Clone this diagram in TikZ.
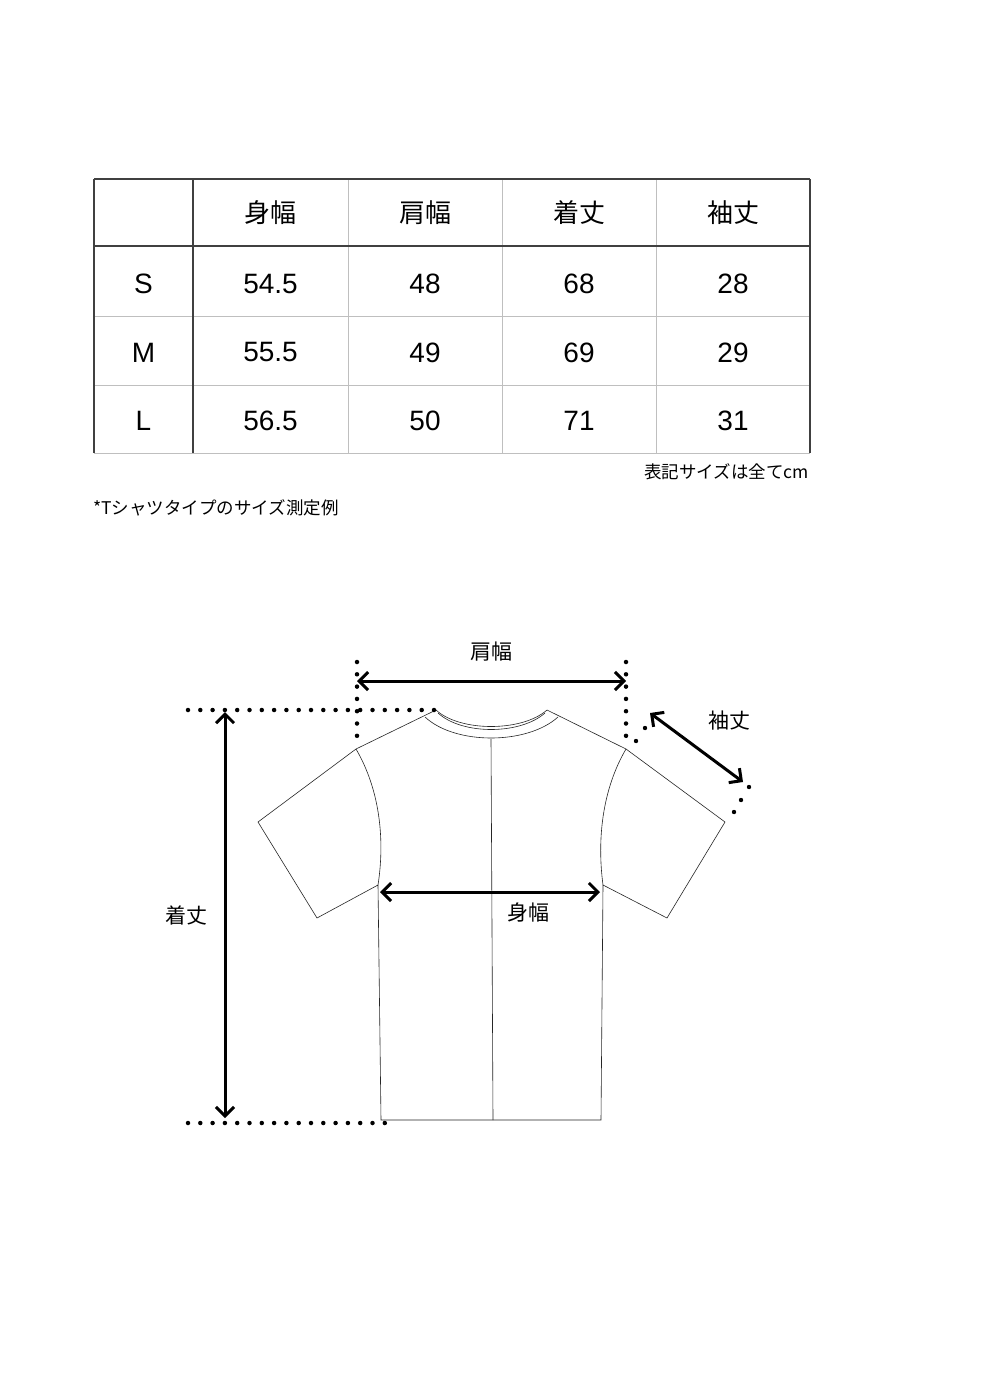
\documentclass[tikz,border=0pt]{standalone}
\usepackage{fontspec}
\setmainfont{Liberation Sans}
\newfontfamily\cjk{Noto Sans CJK JP}
\usetikzlibrary{arrows.meta}
\begin{document}
\begin{tikzpicture}[x=1pt,y=-1pt,
 dark/.style={line width=1.2pt,black!75},
 light/.style={line width=0.8pt,black!25},
 cell/.style={font=\fontsize{28}{28}\selectfont},
 jcell/.style={font=\cjk\fontsize{26}{26}\selectfont},
 lbl/.style={font=\cjk\fontsize{21}{21}\selectfont},
 shirt/.style={line width=0.6pt,black!85},
 meas/.style={line width=3pt,{Straight Barb[length=9pt,width=18pt]}-{Straight Barb[length=9pt,width=18pt]}},
 dots/.style={line width=4.5pt,line cap=round,dash pattern=on 0pt off 12.3pt}]
\useasboundingbox[fill=white] (0,0) rectangle (980,1386);
% table
\foreach \y in {316,385,453} \draw[light] (94,\y) -- (810,\y);
\foreach \x in {348,502,656} \draw[light] (\x,179) -- (\x,453);
\draw[dark] (94,179) -- (810,179);
\draw[dark] (94,246) -- (810,246);
\draw[dark] (94,179) -- (94,453);
\draw[dark] (193,179) -- (193,453);
\draw[dark] (810,179) -- (810,453);
\node[jcell] (h1) at (270.5,213) {身幅};
\node[jcell] (h2) at (425,213) {肩幅};
\node[jcell] (h3) at (579,213) {着丈};
\node[jcell] (h4) at (733,213) {袖丈};
\foreach \s/\a/\b/\c/\d [count=\i] in {S/54.5/48/68/28,M/55.5/49/69/29,L/56.5/50/71/31}{
 \pgfmathsetmacro\yy{284+68.5*(\i-1)}
 \node[cell] (r\i) at (143.5,\yy) {\s};
 \node[cell] (a\i) at (270.5,\yy) {\a};
 \node[cell] (b\i) at (425,\yy) {\b};
 \node[cell] (c\i) at (579,\yy) {\c};
 \node[cell] (d\i) at (733,\yy) {\d};
}
\node[font=\cjk\fontsize{17.5}{17.5}\selectfont,anchor=east,inner sep=0pt] (unit) at (809,472) {表記サイズは全てcm};
\node[font=\cjk\fontsize{17.5}{17.5}\selectfont,anchor=west,inner sep=0pt] (note) at (93,508) {*Tシャツタイプのサイズ測定例};
% shirt
\draw[shirt] (436,710) -- (356,749) -- (258,822) -- (317,918) -- (378,885)
  -- (381,1120) -- (601,1120) -- (603,885) -- (667,918) -- (725,822) -- (626,749) -- (547,710);
\draw[shirt] (356,749) .. controls (380,790) and (385,840) .. (378,885);
\draw[shirt] (626,749) .. controls (602,790) and (597,840) .. (603,885);
\draw[shirt] (425,717) .. controls (455,745) and (527,745) .. (558,717);
\draw[shirt] (436,710) .. controls (460,732) and (522,732) .. (547,710);
\draw[shirt] (438,713) .. controls (462,735) and (520,735) .. (545,713);
\draw[shirt] (491,739) -- (493,1120);
% dotted guides
\draw[dots] (188,710) -- (436,710);
\draw[dots] (357,662) -- (357,740);
\draw[dots] (626,662) -- (626,740);
\draw[dots] (188,1123) -- (385,1123);
\fill (636,741) circle (2.2pt) (645,728) circle (2.2pt);
\fill (749,787) circle (2.2pt) (741,800) circle (2.2pt) (734,812) circle (2.2pt);
% measures
\coordinate (sl) at (357,681); \coordinate (sr) at (626,681);
\draw[meas] (sl) -- (sr);
\node[lbl] (shw) at (491,652) {肩幅};
\coordinate (lt) at (225,712); \coordinate (lb) at (225,1118);
\draw[meas] (lt) -- (lb);
\node[lbl] (len) at (186,915) {着丈};
\coordinate (bl) at (380,892); \coordinate (br) at (600,892);
\draw[meas] (bl) -- (br);
\node[lbl] (bw) at (528,912) {身幅};
\coordinate (s1) at (650,713); \coordinate (s2) at (743,782);
\draw[meas] (s1) -- (s2);
\node[lbl] (slv) at (729,721) {袖丈};
\end{tikzpicture}
\end{document}
